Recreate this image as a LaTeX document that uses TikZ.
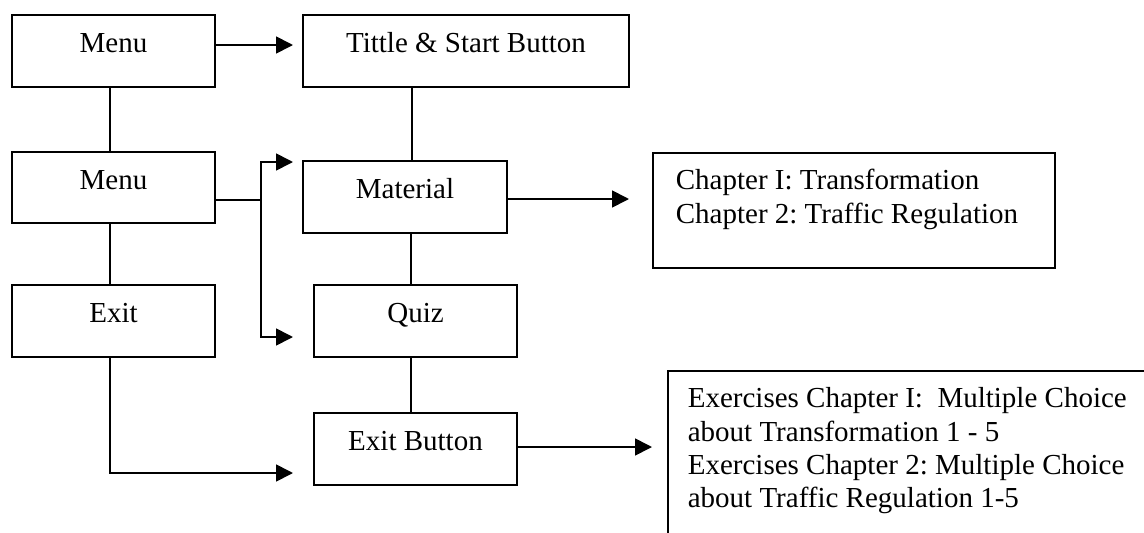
\documentclass[tikz,border=0pt]{standalone}
\usepackage{fontspec}
\setmainfont{Liberation Serif}
\frenchspacing
\usetikzlibrary{arrows.meta}
\begin{document}
\begin{tikzpicture}[x=1pt,y=-1pt,
  every node/.style={font=\fontsize{29}{33.3}\selectfont\frenchspacing},
  box/.style={draw, line width=1.7pt, rectangle, inner sep=0pt, text height=37pt},
  onebox/.style={box, text depth=35pt},
  multibox/.style={box, align=flush left, anchor=north west, inner ysep=0pt},
  conn/.style={line width=1.7pt},
  arr/.style={conn, -{Triangle[length=17pt,width=17pt]}}]
\useasboundingbox (0,0) rectangle (1144,533);
\clip (0,0) rectangle (1144,533);
% boxes
\node[onebox, minimum width=203pt] (m1) at (113.5,51) {Menu};
\node[onebox, minimum width=326pt] (tt) at (466,51) {Tittle \& Start Button};
\node[box, text depth=34pt, minimum width=203pt] (m2) at (113.5,187.5) {Menu};
\node[onebox, minimum width=204pt] (mat) at (405,197) {Material};
\node[onebox, minimum width=203pt] (ex) at (113.5,321) {Exit};
\node[onebox, minimum width=203pt] (qz) at (415.5,321) {Quiz};
\node[onebox, minimum width=203pt] (eb) at (415.5,449) {Exit Button};
\node[multibox, text width=356pt, inner xsep=23pt, text depth=78pt] (ch) at (652,152)
  {Chapter I: Transformation\\Chapter 2: Traffic Regulation};
\node[multibox, text width=480pt, inner xsep=20pt, text depth=163pt] (exr) at (667,370)
  {Exercises Chapter I:\ \ Multiple Choice\\about Transformation 1 - 5\\Exercises Chapter 2: Multiple Choice\\about Traffic Regulation 1-5};
% free ends and bends
\coordinate (ttt) at (293,45);
\coordinate (br) at (261,200);
\coordinate (tmat) at (293,162);
\coordinate (tqz) at (293,337);
\coordinate (teb) at (293,473);
\coordinate (tch) at (629,199);
\coordinate (texr) at (652,447);
% connectors
\draw[arr] (m1.east |- ttt) -- (ttt);
\draw[conn] (m1.south -| 110,0) -- (m2.north -| 110,0);
\draw[conn] (m2.south -| 110,0) -- (ex.north -| 110,0);
\draw[conn] (tt.south -| 412,0) -- (mat.north -| 412,0);
\draw[conn] (mat.south -| 411,0) -- (qz.north -| 411,0);
\draw[conn] (qz.south -| 411,0) -- (eb.north -| 411,0);
\draw[arr] (m2.east |- br) -- (br) |- (tmat);
\draw[arr] (br) |- (tqz);
\draw[arr] (ex.south -| 110,0) |- (teb);
\draw[arr] (mat.east |- tch) -- (tch);
\draw[arr] (eb.east |- texr) -- (texr);
\end{tikzpicture}
\end{document}
